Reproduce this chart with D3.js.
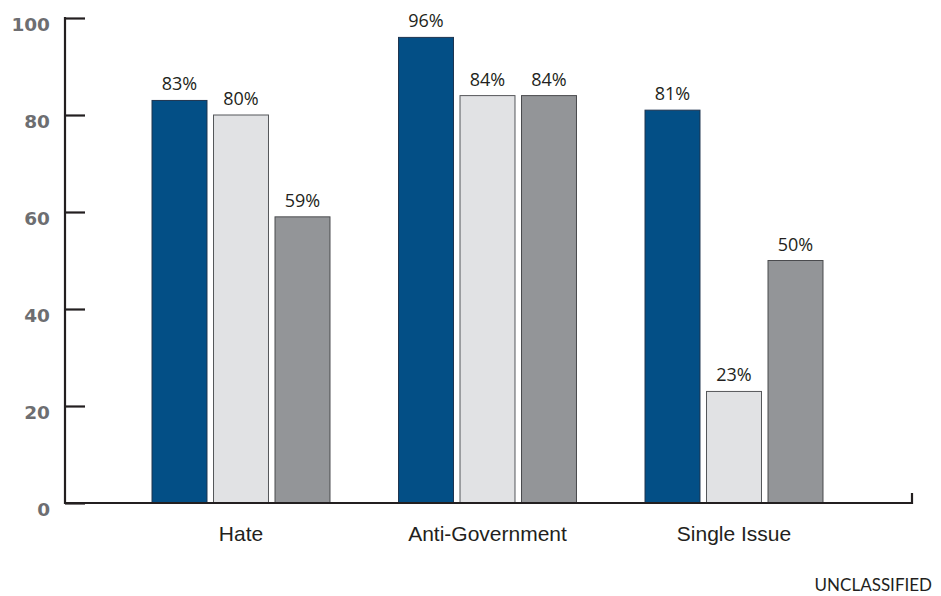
<!DOCTYPE html>
<html>
<head>
<meta charset="utf-8">
<script src="https://cdn.jsdelivr.net/npm/d3@7"></script>
<style>
  html, body { margin: 0; padding: 0; background: #fff; }
  svg { display: block; }
</style>
</head>
<body>
<svg id="chart" width="941" height="596"></svg>
<script>
// Share of incidents by movement type, three series per category
const categories = ["Hate", "Anti-Government", "Single Issue"];
const seriesNames = ["s1", "s2", "s3"];
const seriesA = [83, 96, 81];
const seriesB = [80, 84, 23];
const seriesC = [59, 84, 50];
const yTicks = [0, 20, 40, 60, 80, 100];
const footer = "UNCLASSIFIED";

const colors = { s1: "#034f86", s2: "#e1e2e4", s3: "#939598" };
const strokes = { s1: "#1f3550", s2: "#55575a", s3: "#4a4b4e" };

const svg = d3.select("#chart");

const y = d3.scaleLinear().domain([0, 100]).range([503, 18]);
const x0 = d3.scaleBand().domain(categories).range([117.75, 857.25]);
const x1 = d3.scaleBand().domain(seriesNames).range([0, x0.bandwidth() - 62])
  .paddingInner(0.106).paddingOuter(0.053);

const rows = categories.map((c, i) => ({
  category: c,
  values: [
    { key: "s1", value: seriesA[i] },
    { key: "s2", value: seriesB[i] },
    { key: "s3", value: seriesC[i] }
  ]
}));

const groupOffset = (x0.bandwidth() - x1.range()[1]) / 2;

const groups = svg.append("g").selectAll("g")
  .data(rows).join("g")
  .attr("transform", d => `translate(${x0(d.category) + groupOffset},0)`);

groups.selectAll("rect")
  .data(d => d.values).join("rect")
  .attr("x", d => x1(d.key))
  .attr("y", d => y(d.value))
  .attr("width", x1.bandwidth())
  .attr("height", d => y(0) - y(d.value))
  .attr("fill", d => colors[d.key])
  .attr("stroke", d => strokes[d.key])
  .attr("stroke-width", 1);

groups.selectAll("text.val")
  .data(d => d.values).join("text")
  .attr("class", "val")
  .attr("x", d => x1(d.key) + x1.bandwidth() / 2)
  .attr("y", d => y(d.value) - 10)
  .attr("text-anchor", "middle")
  .attr("font-family", "'Open Sans', 'Noto Sans', sans-serif")
  .attr("font-size", 18)
  .attr("fill", "#231f20")
  .text(d => d.value + "%");

// Y axis: line with short inward ticks, bold grey labels
const yAxis = d3.axisRight(y).tickValues(yTicks).tickSize(20).tickFormat("");
const gy = svg.append("g").attr("transform", "translate(65,0)").call(yAxis);
gy.select(".domain").remove();
gy.selectAll(".tick line").attr("stroke", "#231f20").attr("stroke-width", 2.2);
svg.append("line")
  .attr("x1", 65).attr("x2", 65).attr("y1", y(100) - 1).attr("y2", y(0) + 1)
  .attr("stroke", "#231f20").attr("stroke-width", 2.2);

svg.append("g").selectAll("text")
  .data(yTicks).join("text")
  .attr("x", 50)
  .attr("y", d => y(d) + 13)
  .attr("text-anchor", "end")
  .attr("font-family", "'DejaVu Sans', sans-serif")
  .attr("font-weight", "bold")
  .attr("font-size", 18.5)
  .attr("fill", "#6d6e71")
  .text(d => d);

// X axis baseline with a small end tick
svg.append("path")
  .attr("d", `M64,${y(0)}H912V${y(0) - 10}`)
  .attr("fill", "none")
  .attr("stroke", "#231f20")
  .attr("stroke-width", 2.2);

svg.append("g").selectAll("text")
  .data(categories).join("text")
  .attr("x", d => x0(d) + x0.bandwidth() / 2)
  .attr("y", 541)
  .attr("text-anchor", "middle")
  .attr("font-family", "'Liberation Sans', Arial, sans-serif")
  .attr("font-size", 21)
  .attr("fill", "#231f20")
  .text(d => d);

svg.append("text")
  .attr("x", 932)
  .attr("y", 591)
  .attr("text-anchor", "end")
  .attr("font-family", "Lato, 'Open Sans', sans-serif")
  .attr("font-size", 17)
  .attr("fill", "#231f20")
  .text(footer);
</script>
</body>
</html>
